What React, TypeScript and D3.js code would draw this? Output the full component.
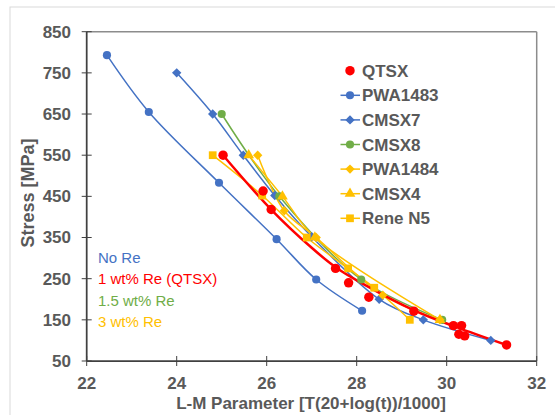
import * as d3 from "d3"

// Larson-Miller data: [L-M parameter, stress MPa]
const qtsx = [[25.03, 550], [25.92, 463], [26.1, 418], [27.53, 275], [27.82, 240], [28.27, 205],
  [29.27, 171], [30.15, 136], [30.33, 136], [30.27, 115], [30.4, 111], [31.33, 89]]
const qtsxFit = [[25.03, 550], [26.1, 418], [27.0, 325], [27.53, 278], [28.1, 240], [29.3, 172],
  [30.2, 133], [31.33, 89]]
const pwa1483 = [[22.45, 793], [23.38, 655], [24.94, 483], [26.22, 346], [27.1, 248], [28.12, 172]]
const cmsx7 = [[24.0, 750], [24.8, 650], [25.48, 550], [26.18, 452], [27.0, 352], [28.5, 200],
  [29.48, 150], [30.98, 100]]
const cmsx8 = [[25.0, 650], [26.28, 450], [28.1, 248], [29.9, 150]]
const pwa1484 = [[25.8, 550], [26.39, 415], [27.1, 350], [28.58, 210], [29.85, 150]]
const cmsx4 = [[25.6, 550], [26.35, 450], [27.07, 350], [29.85, 150]]
const reneN5 = [[24.8, 550], [25.9, 452], [26.89, 350], [27.81, 275], [28.39, 228], [29.18, 150]]

const xTicks = [22, 24, 26, 28, 30, 32]
const yTicks = [50, 150, 250, 350, 450, 550, 650, 750, 850]
const legendNames = ["QTSX", "PWA1483", "CMSX7", "CMSX8", "PWA1484", "CMSX4", "Rene N5"]
const reNotes = ["No Re", "1 wt% Re (QTSX)", "1.5 wt% Re", "3 wt% Re"]

const BLUE = "#4472C4"
const RED = "#FF0000"
const GREEN = "#70AD47"
const YELLOW = "#FFC000"
const GREY = "#595959"

const x = d3.scaleLinear().domain([22, 32]).range([86.7, 536.7])
const y = d3.scaleLinear().domain([50, 850]).range([361, 31.7])

const line = d3.line<number[]>()
  .x(d => x(d[0]))
  .y(d => y(d[1]))
  .curve(d3.curveCatmullRom.alpha(0.5))

// excel diamonds are a square turned 45 degrees, not the tall d3 diamond
const diamond = d3.symbol().type(d3.symbolSquare).size(44)()
const symbols = {
  circle: d3.symbol().type(d3.symbolCircle).size(52)(),
  diamond: diamond,
  triangle: d3.symbol().type(d3.symbolTriangle).size(50)(),
  square: d3.symbol().type(d3.symbolSquare).size(60)(),
  big: d3.symbol().type(d3.symbolCircle).size(70)(),
}

const series = [
  { name: "PWA1483", data: pwa1483, color: BLUE, sym: symbols.circle, rot: 0 },
  { name: "CMSX7", data: cmsx7, color: BLUE, sym: symbols.diamond, rot: 45 },
  { name: "CMSX8", data: cmsx8, color: GREEN, sym: symbols.circle, rot: 0 },
  { name: "PWA1484", data: pwa1484, color: YELLOW, sym: symbols.diamond, rot: 45 },
  { name: "CMSX4", data: cmsx4, color: YELLOW, sym: symbols.triangle, rot: 0 },
  { name: "Rene N5", data: reneN5, color: YELLOW, sym: symbols.square, rot: 0 },
]

function App() {
  const font = "'Liberation Sans', Arial, sans-serif"
  const noteColors = [BLUE, RED, GREEN, YELLOW]

  return (
    <svg width={555} height={415} style={{ position: "absolute", left: 0, top: 0, fontFamily: font }}>
      <rect x={0} y={0} width={555} height={415} fill="#fff" />
      <rect x={10} y={7} width={560} height={420} fill="none" stroke="#d9d9d9" strokeWidth={1} />

      {/* plot frame */}
      <line x1={x(22)} x2={x(32)} y1={y(850)} y2={y(850)} stroke="#8c8c8c" strokeWidth={1.5} />
      <line x1={x(32)} x2={x(32)} y1={y(850)} y2={y(50)} stroke="#8c8c8c" strokeWidth={1.5} />
      <line x1={x(22)} x2={x(22)} y1={y(850)} y2={y(50)} stroke="#404040" strokeWidth={1.75} />
      <line x1={x(22)} x2={x(32)} y1={y(50)} y2={y(50)} stroke="#404040" strokeWidth={1.75} />

      {yTicks.map(t => (
        <g key={"y" + t}>
          <line x1={x(22) - 5} x2={x(22) + 5} y1={y(t)} y2={y(t)} stroke="#404040" strokeWidth={1} />
          <text x={71} y={y(t)} dy="0.35em" textAnchor="end" fontSize={17} fontWeight="bold" fill={GREY}>{t}</text>
        </g>
      ))}
      {xTicks.map(t => (
        <g key={"x" + t}>
          <line x1={x(t)} x2={x(t)} y1={y(50) - 5} y2={y(50) + 5} stroke="#404040" strokeWidth={1} />
          <text x={x(t)} y={389} textAnchor="middle" fontSize={17} fontWeight="bold" fill={GREY}>{t}</text>
        </g>
      ))}

      <text x={311} y={409} textAnchor="middle" fontSize={17} fontWeight="bold" fill={GREY}>
        L-M Parameter [T(20+log(t))/1000]
      </text>
      <text transform="translate(34,193) rotate(-90)" textAnchor="middle" fontSize={18} fontWeight="bold" fill={GREY}>
        Stress [MPa]
      </text>

      {/* series lines */}
      {series.map(s => (
        <path key={s.name} d={line(s.data) ?? ""} fill="none" stroke={s.color} strokeWidth={1.5} />
      ))}
      <path d={line(qtsxFit) ?? ""} fill="none" stroke={RED} strokeWidth={2.5} />

      {series.map(s => s.data.map((d, i) => (
        <path key={s.name + i} d={s.sym ?? ""}
          transform={`translate(${x(d[0])},${y(d[1])}) rotate(${s.rot})`} fill={s.color} />
      )))}
      {qtsx.map((d, i) => (
        <path key={"q" + i} d={symbols.big ?? ""} transform={`translate(${x(d[0])},${y(d[1])})`} fill={RED} />
      ))}

      {/* legend */}
      {legendNames.map((n, i) => {
        const ly = 70.7 + i * 24.6
        const s = series.find(d => d.name === n)
        return (
          <g key={n}>
            {s ? (
              <>
                <line x1={340.5} x2={360} y1={ly} y2={ly} stroke={s.color} strokeWidth={1.5} />
                <path d={s.sym ?? ""} transform={`translate(350,${ly}) rotate(${s.rot})`} fill={s.color} />
              </>
            ) : (
              <path d={symbols.big ?? ""} transform={`translate(350,${ly})`} fill={RED} />
            )}
            <text x={362} y={ly} dy="0.36em" fontSize={17} fontWeight="bold" fill={GREY}>{n}</text>
          </g>
        )
      })}

      {reNotes.map((n, i) => (
        <text key={n} x={98} y={257.3 + i * 21.5} dy="0.35em" fontSize={15} fill={noteColors[i]}>{n}</text>
      ))}
    </svg>
  )
}

export default App
